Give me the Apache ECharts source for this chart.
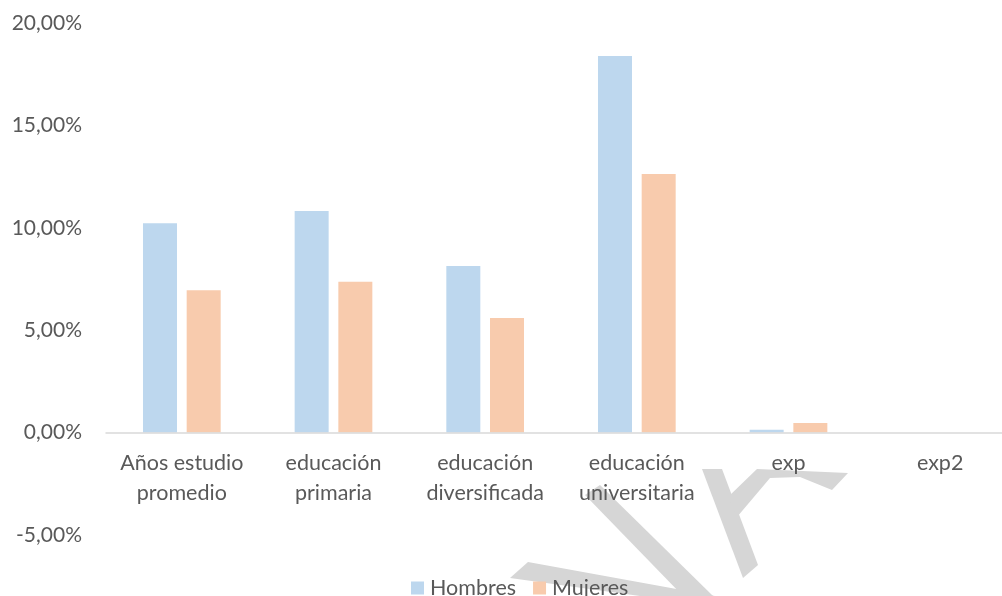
<!DOCTYPE html>
<html>
<head>
<meta charset="utf-8">
<script src="https://cdn.jsdelivr.net/npm/echarts@6/dist/echarts.min.js"></script>
<style>
html,body{margin:0;padding:0;background:#fff;}
#chart{width:1002px;height:596px;}
</style>
</head>
<body>
<div id="chart"></div>
<script>
const categories = ['Años estudio\npromedio', 'educación\nprimaria', 'educación\ndiversificada', 'educación\nuniversitaria', 'exp', 'exp2'];
const hombres = [10.22, 10.82, 8.13, 18.39, 0.14, 0.0];
const mujeres = [6.95, 7.37, 5.6, 12.63, 0.47, 0.0];
const seriesNames = ['Hombres', 'Mujeres'];
const yTicks = { min: -5, max: 20, interval: 5 };

const FONT = 'Lato';
const TXT = '#595959';
const WM = '#d6d6d6';

const chart = echarts.init(document.getElementById('chart'), null, { renderer: 'canvas' });
const fmt = v => v.toFixed(2).replace('.', ',') + '%';

chart.setOption({
  animation: false,
  backgroundColor: '#ffffff',
  textStyle: { fontFamily: FONT },
  grid: { left: 106, right: -14, top: 23, bottom: 61, containLabel: false, outerBoundsMode: 'none' },
  legend: {
    data: seriesNames,
    left: 406,
    top: 572,
    icon: 'rect',
    itemWidth: 13,
    itemHeight: 13,
    itemGap: 17,
    textStyle: { color: TXT, fontSize: 21.5, fontFamily: FONT, padding: [0, 0, 0, 1] }
  },
  xAxis: {
    type: 'category',
    data: categories,
    z: 10,
    offset: -102.4,
    axisLine: { show: true, onZero: false, lineStyle: { color: '#d9d9d9', width: 1.5 } },
    axisTick: { show: false },
    splitLine: { show: false },
    axisLabel: {
      color: TXT, fontSize: 21.5, fontFamily: FONT, lineHeight: 30, margin: 15, interval: 0
    }
  },
  yAxis: {
    type: 'value',
    min: yTicks.min,
    max: yTicks.max,
    interval: yTicks.interval,
    z: 10,
    axisLine: { show: false },
    axisTick: { show: false },
    splitLine: { show: false },
    axisLabel: { color: TXT, fontSize: 21, fontFamily: FONT, margin: 24, formatter: fmt }
  },
  series: [
    { name: seriesNames[0], type: 'bar', data: hombres, barWidth: 34, barGap: '28.5%', itemStyle: { color: '#BDD7EE' } },
    { name: seriesNames[1], type: 'bar', data: mujeres, barWidth: 34, barGap: '28.5%', itemStyle: { color: '#F8CBAD' } }
  ],
  graphic: [
    { type: 'polygon', z: -1, shape: { points: [[585,495],[600,485],[713,596],[683,596]] }, style: { fill: WM } },
    { type: 'polygon', z: -1, shape: { points: [[510,578],[528,562],[715,596],[640,596]] }, style: { fill: WM } },
    { type: 'polygon', z: -1, shape: { points: [[702,469],[722,469],[758,565],[743,578]] }, style: { fill: WM } },
    { type: 'polygon', z: -1, shape: { points: [[728,497],[757,469],[848,473],[832,490],[800,477],[770,478],[737,517]] }, style: { fill: WM } }
  ]
});
</script>
</body>
</html>
